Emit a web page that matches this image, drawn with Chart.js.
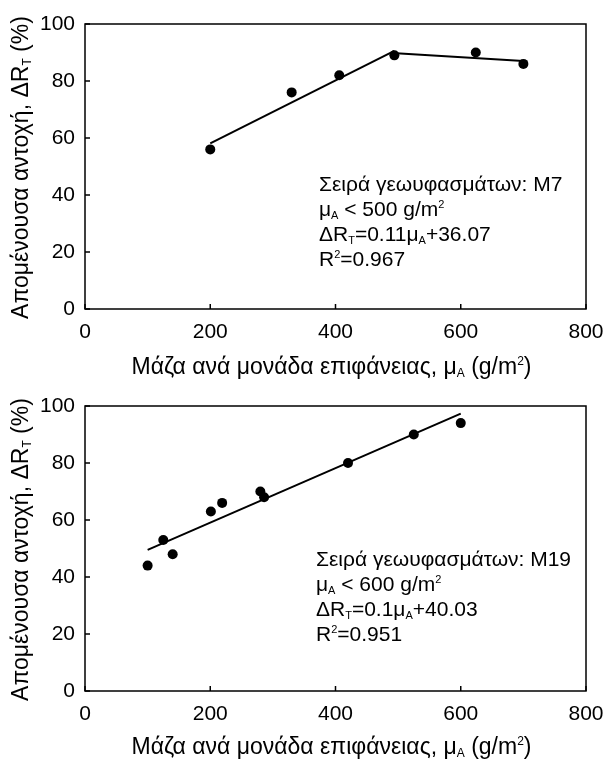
<!DOCTYPE html>
<html>
<head>
<meta charset="utf-8">
<script src="https://cdn.jsdelivr.net/npm/chart.js@4.4.1/dist/chart.umd.min.js"></script>
<style>
  body { margin: 0; background: #fff; }
  canvas { display: block; }
</style>
</head>
<body>
<canvas id="chartM7" width="604" height="380"></canvas>
<canvas id="chartM19" width="604" height="380"></canvas>
<script>
// series M7 (measured points + the two fitted segments)
const massM7 = [200, 330, 406, 494, 624, 700];
const retM7 = [56, 76, 82, 89, 90, 86];
const fitM7LowX = [200, 494];
const fitM7LowY = [58.1, 90.6];
const fitM7HighX = [497, 700];
const fitM7HighY = [89.7, 87.0];

// series M19
const massM19 = [100, 125, 140, 201, 219, 280, 286, 420, 525, 600];
const retM19 = [44, 53, 48, 63, 66, 70, 68, 80, 90, 94];
const fitM19X = [100, 600];
const fitM19Y = [49.5, 97.3];

const xTicks = [0, 200, 400, 600, 800];
const yTicks = [0, 20, 40, 60, 80, 100];

const FONT = '"Liberation Sans", Arial, sans-serif';

function pts(xs, ys) {
  return xs.map((x, i) => ({ x: x, y: ys[i] }));
}

// text with sub/superscripts: parts = [[text, 'n'|'sub'|'sup'], ...]
function drawRich(ctx, parts, x, y, size, align, rotate) {
  const small = Math.round(size * 0.5);
  ctx.save();
  ctx.translate(x, y);
  if (rotate) ctx.rotate(-Math.PI / 2);
  ctx.fillStyle = '#000';
  ctx.textBaseline = 'alphabetic';
  ctx.textAlign = 'left';
  const sizes = parts.map(p => p[1] === 'n' ? size : small);
  const widths = parts.map((p, i) => {
    ctx.font = sizes[i] + 'px ' + FONT;
    return ctx.measureText(p[0]).width;
  });
  let cx = align === 'center' ? -widths.reduce((a, b) => a + b, 0) / 2 : 0;
  parts.forEach((p, i) => {
    ctx.font = sizes[i] + 'px ' + FONT;
    let dy = 0;
    if (p[1] === 'sub') dy = size * 0.12;
    if (p[1] === 'sup') dy = -size * 0.38;
    ctx.fillText(p[0], cx, dy);
    cx += widths[i];
  });
  ctx.restore();
}

const yTitle = [['Απομένουσα αντοχή, ΔR', 'n'], ['T', 'sub'], [' (%)', 'n']];
const xTitle = [['Μάζα ανά μονάδα επιφάνειας, μ', 'n'], ['A', 'sub'], [' (g/m', 'n'], ['2', 'sup'], [')', 'n']];

function makeFrame(notes, noteDx, noteDy) {
  return {
    id: 'frame',
    afterDatasetsDraw(chart) {
      const ctx = chart.ctx;
      const a = chart.chartArea;
      const xs = chart.scales.x;
      const ys = chart.scales.y;
      ctx.save();
      ctx.strokeStyle = '#000';
      ctx.lineWidth = 1.5;
      ctx.strokeRect(a.left, a.top, a.right - a.left, a.bottom - a.top);
      ctx.beginPath();
      xTicks.forEach(v => {
        const px = xs.getPixelForValue(v);
        ctx.moveTo(px, a.bottom);
        ctx.lineTo(px, a.bottom - 5);
      });
      yTicks.forEach(v => {
        const py = ys.getPixelForValue(v);
        ctx.moveTo(a.left, py);
        ctx.lineTo(a.left + 5, py);
      });
      ctx.stroke();
      ctx.restore();

      drawRich(ctx, xTitle, (a.left + a.right) / 2 - 4, 374, 23, 'center', false);
      drawRich(ctx, yTitle, 28, (a.top + a.bottom) / 2 + 1, 23, 'center', true);

      notes.forEach((line, i) => {
        drawRich(ctx, line, a.left + noteDx, a.top + noteDy + i * 25, 21, 'left', false);
      });
    }
  };
}

function buildChart(id, top, scatterPts, fits, notes, noteDx, noteDy) {
  const datasets = [{
    data: scatterPts,
    showLine: false,
    pointRadius: 5,
    pointHoverRadius: 5,
    backgroundColor: '#000',
    borderColor: '#000',
    borderWidth: 0
  }];
  fits.forEach(f => {
    datasets.push({
      data: f,
      showLine: true,
      pointRadius: 0,
      borderColor: '#000',
      borderWidth: 2,
      fill: false
    });
  });

  new Chart(document.getElementById(id), {
    type: 'scatter',
    data: { datasets: datasets },
    options: {
      responsive: false,
      animation: false,
      devicePixelRatio: 1,
      layout: { padding: { top: top, right: 18, left: 0, bottom: 0 } },
      plugins: { legend: { display: false }, tooltip: { enabled: false } },
      scales: {
        x: {
          type: 'linear',
          min: 0,
          max: 800,
          afterBuildTicks: s => { s.ticks = xTicks.map(v => ({ value: v })); },
          afterFit: s => {
            s.height = 380 - top - 285;
            s.paddingLeft = 0;
            s.paddingRight = 0;
          },
          grid: { display: false, drawTicks: false },
          border: { display: false },
          ticks: { color: '#000', font: { family: FONT, size: 21 }, padding: 11, maxRotation: 0 }
        },
        y: {
          type: 'linear',
          min: 0,
          max: 100,
          afterBuildTicks: s => { s.ticks = yTicks.map(v => ({ value: v })); },
          afterFit: s => {
            s.width = 85;
            s.paddingTop = 0;
            s.paddingBottom = 0;
          },
          grid: { display: false, drawTicks: false },
          border: { display: false },
          ticks: { color: '#000', font: { family: FONT, size: 21 }, padding: 10 }
        }
      }
    },
    plugins: [makeFrame(notes, noteDx, noteDy)]
  });
}

buildChart('chartM7', 24, pts(massM7, retM7),
  [pts(fitM7LowX, fitM7LowY), pts(fitM7HighX, fitM7HighY)],
  [
    [['Σειρά γεωυφασμάτων: M7', 'n']],
    [['μ', 'n'], ['A', 'sub'], [' < 500 g/m', 'n'], ['2', 'sup']],
    [['ΔR', 'n'], ['T', 'sub'], ['=0.11μ', 'n'], ['A', 'sub'], ['+36.07', 'n']],
    [['R', 'n'], ['2', 'sup'], ['=0.967', 'n']]
  ], 234, 167);

buildChart('chartM19', 26, pts(massM19, retM19),
  [pts(fitM19X, fitM19Y)],
  [
    [['Σειρά γεωυφασμάτων: M19', 'n']],
    [['μ', 'n'], ['A', 'sub'], [' < 600 g/m', 'n'], ['2', 'sup']],
    [['ΔR', 'n'], ['T', 'sub'], ['=0.1μ', 'n'], ['A', 'sub'], ['+40.03', 'n']],
    [['R', 'n'], ['2', 'sup'], ['=0.951', 'n']]
  ], 231, 160);
</script>
</body>
</html>
